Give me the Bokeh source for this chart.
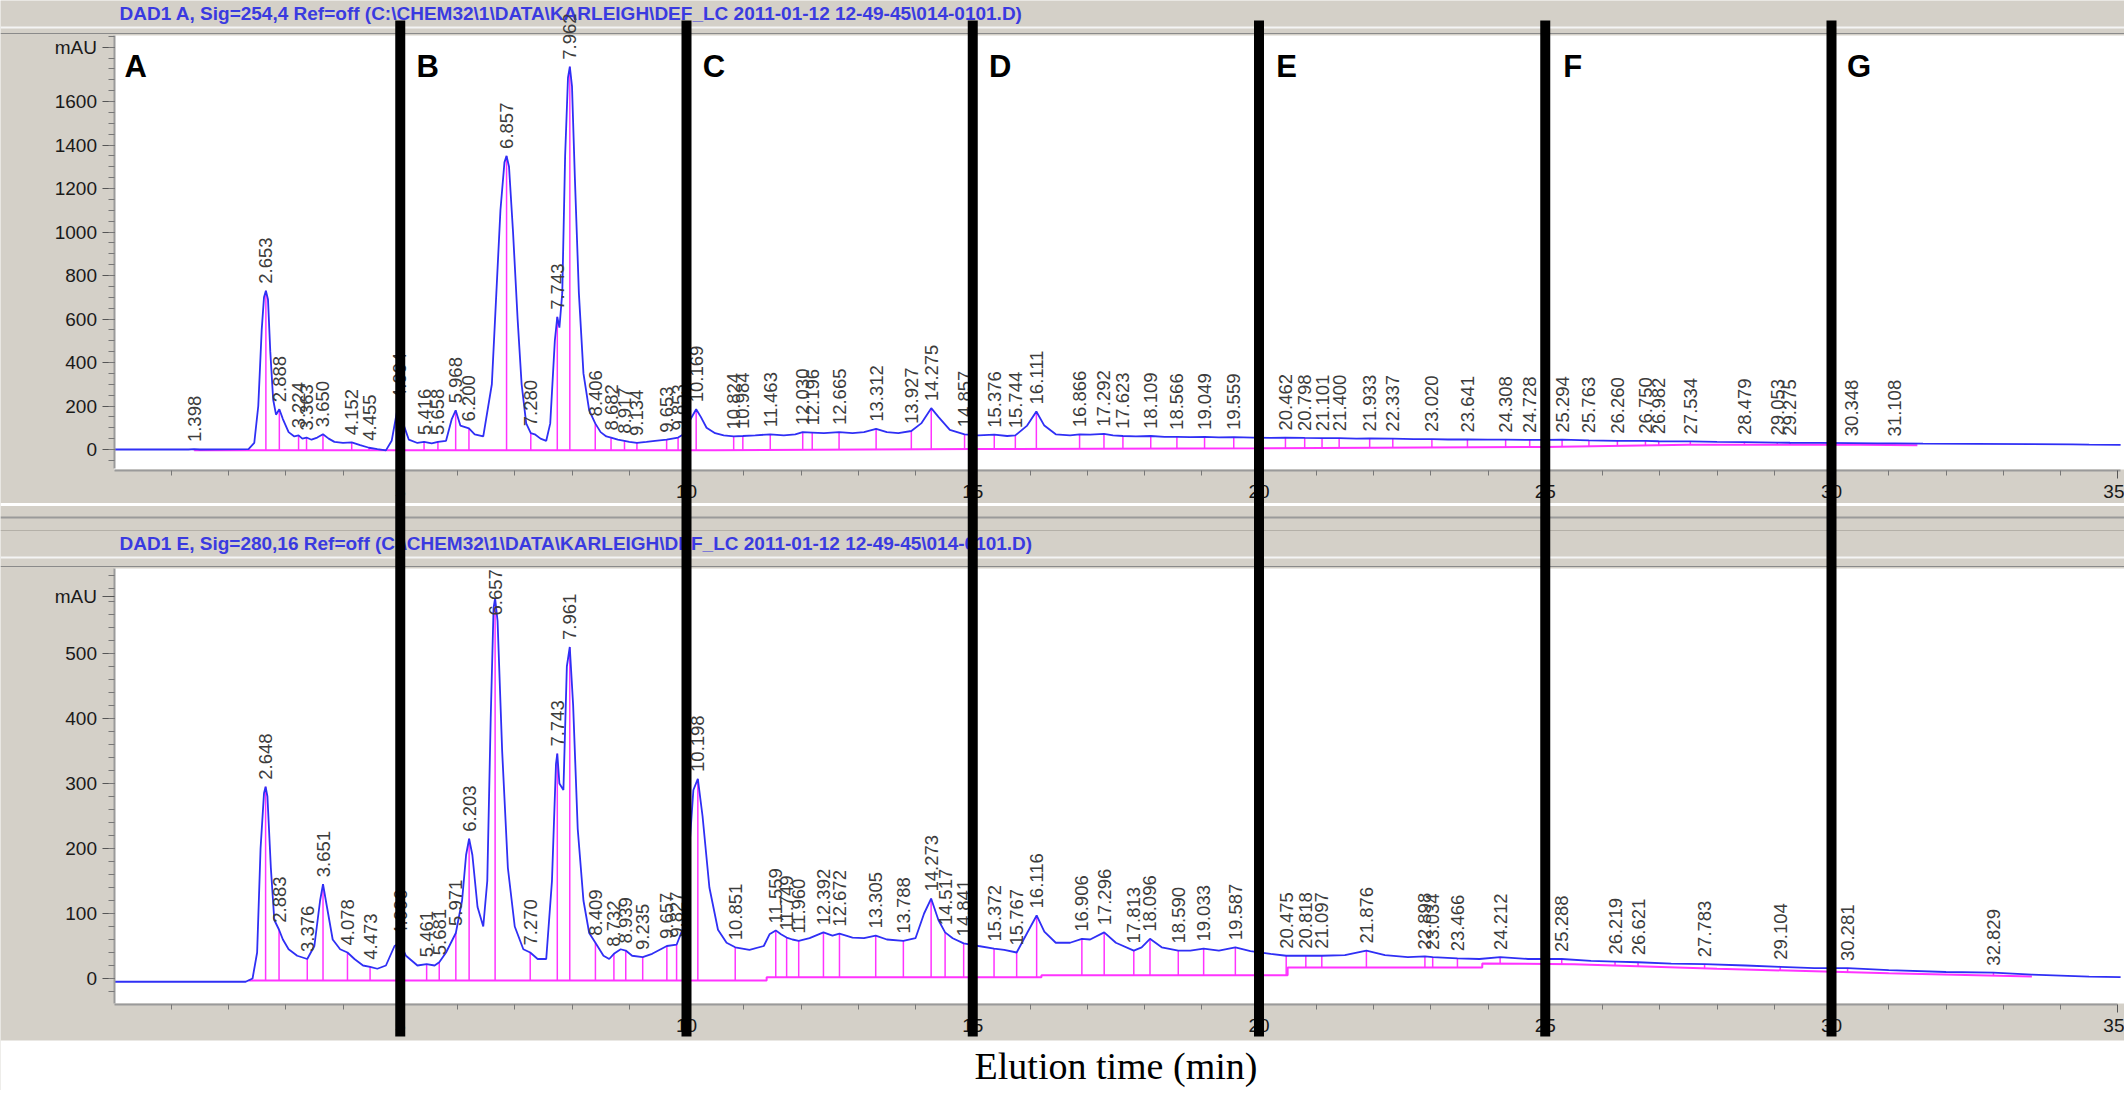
import numpy as np
from bokeh.plotting import figure
from bokeh.models import Range1d, LinearAxis, FixedTicker
from bokeh.embed import file_html
from bokeh.resources import INLINE
from bokeh.core.properties import value

# ---------------- data ----------------
header_top = r"DAD1 A, Sig=254,4 Ref=off (C:\CHEM32\1\DATA\KARLEIGH\DEF_LC 2011-01-12 12-49-45\014-0101.D)"
header_bot = r"DAD1 E, Sig=280,16 Ref=off (C:\CHEM32\1\DATA\KARLEIGH\DEF_LC 2011-01-12 12-49-45\014-0101.D)"
x_label = "Elution time (min)"

x_ticks = [5, 10, 15, 20, 25, 30, 35]
x_minor = list(range(1, 35))
top_y_ticks = [0, 200, 400, 600, 800, 1000, 1200, 1400, 1600]
top_y_minor = list(range(-50, 1901, 50))
top_mau = 1850
bot_y_ticks = [0, 100, 200, 300, 400, 500]
bot_y_minor = list(range(-20, 621, 20))
bot_mau = 588

section_bounds = [5, 10, 15, 20, 25, 30]
section_letters = ["A", "B", "C", "D", "E", "F", "G"]

# upper trace, DAD1 A 254 nm  (time [min], mAU)
top_trace = [(0.0, 0), (1.30, 0), (1.398, 2), (1.50, 0), (2.35, 2), (2.45, 30), (2.52, 200),
             (2.58, 550), (2.62, 700), (2.653, 730), (2.69, 690), (2.73, 450), (2.78, 230),
             (2.83, 160), (2.888, 185), (2.95, 140), (3.05, 80), (3.15, 60), (3.224, 65),
             (3.29, 50), (3.363, 55), (3.45, 45), (3.55, 55), (3.650, 70), (3.75, 50), (3.85, 35),
             (4.00, 30), (4.152, 33), (4.30, 20), (4.455, 8), (4.60, 2), (4.75, -4), (4.85, 40),
             (4.94, 170), (4.994, 200), (5.05, 120), (5.15, 45), (5.30, 30), (5.416, 35),
             (5.55, 28), (5.658, 35), (5.80, 40), (5.90, 140), (5.968, 180), (6.05, 110),
             (6.200, 97), (6.30, 70), (6.45, 60), (6.60, 300), (6.75, 1100), (6.82, 1320),
             (6.857, 1350), (6.90, 1300), (6.97, 1000), (7.05, 600), (7.12, 300), (7.20, 120),
             (7.280, 75), (7.35, 70), (7.45, 50), (7.55, 40), (7.62, 120), (7.70, 500),
             (7.743, 610), (7.78, 560), (7.83, 720), (7.88, 1350), (7.93, 1710), (7.962, 1760),
             (8.00, 1670), (8.05, 1250), (8.12, 720), (8.20, 350), (8.30, 180), (8.406, 120),
             (8.50, 80), (8.60, 60), (8.682, 55), (8.80, 45), (8.917, 40), (9.00, 35),
             (9.134, 30), (9.30, 35), (9.45, 40), (9.653, 45), (9.853, 55), (9.95, 70),
             (10.05, 130), (10.169, 185), (10.25, 150), (10.35, 100), (10.50, 75), (10.65, 65),
             (10.824, 60), (10.984, 62), (11.20, 65), (11.463, 70), (11.70, 65), (11.90, 70),
             (12.030, 80), (12.196, 78), (12.40, 75), (12.665, 80), (12.90, 75), (13.10, 80),
             (13.312, 95), (13.50, 80), (13.70, 75), (13.927, 85), (14.10, 120), (14.275, 190),
             (14.40, 150), (14.60, 90), (14.857, 70), (15.10, 65), (15.376, 68), (15.60, 62),
             (15.744, 65), (15.95, 110), (16.111, 175), (16.25, 110), (16.45, 70), (16.70, 65),
             (16.866, 70), (17.05, 68), (17.292, 72), (17.45, 65), (17.623, 62), (17.85, 60),
             (18.109, 62), (18.35, 58), (18.566, 58), (18.80, 57), (19.049, 58), (19.30, 56),
             (19.559, 57), (19.90, 55), (20.20, 53), (20.462, 55), (20.798, 53), (21.101, 52),
             (21.400, 52), (21.70, 50), (21.933, 51), (22.337, 50), (22.70, 48), (23.020, 48),
             (23.30, 46), (23.641, 46), (24.00, 45), (24.308, 45), (24.728, 44), (25.00, 44),
             (25.294, 45), (25.763, 42), (26.260, 40), (26.750, 40), (26.982, 38), (27.534, 37),
             (28.00, 35), (28.479, 34), (29.053, 32), (29.275, 31), (29.80, 30), (30.348, 29),
             (30.80, 28), (31.108, 28), (31.60, 27), (32.50, 26), (33.50, 25), (34.20, 24),
             (34.50, 22), (35.05, 21)]
top_baseline = [(1.40, -3), (10.5, -3), (15.0, 2), (20.0, 6), (25.0, 12), (27.5, 22),
                (30.5, 22), (31.5, 20)]
top_peaks = [1.398, 2.653, 2.888, 3.224, 3.363, 3.650, 4.152, 4.455, 4.994, 5.416, 5.658,
             5.968, 6.200, 6.857, 7.280, 7.743, 7.962, 8.406, 8.682, 8.917, 9.134, 9.653,
             9.853, 10.169, 10.824, 10.984, 11.463, 12.030, 12.196, 12.665, 13.312, 13.927,
             14.275, 14.857, 15.376, 15.744, 16.111, 16.866, 17.292, 17.623, 18.109, 18.566,
             19.049, 19.559, 20.462, 20.798, 21.101, 21.400, 21.933, 22.337, 23.020, 23.641,
             24.308, 24.728, 25.294, 25.763, 26.260, 26.750, 26.982, 27.534, 28.479, 29.053,
             29.275, 30.348, 31.108]

# lower trace, DAD1 E 280 nm
bot_trace = [(0.0, -5), (2.30, -5), (2.42, 0), (2.50, 40), (2.56, 200), (2.62, 285), (2.648, 295),
             (2.68, 280), (2.74, 170), (2.80, 90), (2.883, 75), (2.95, 60), (3.05, 45), (3.20, 35),
             (3.376, 30), (3.50, 50), (3.60, 120), (3.651, 145), (3.72, 110), (3.82, 60), (3.95, 45),
             (4.078, 40), (4.20, 30), (4.35, 20), (4.473, 18), (4.60, 15), (4.75, 20), (4.90, 50),
             (4.996, 55), (5.10, 35), (5.30, 20), (5.461, 22), (5.60, 20), (5.681, 25), (5.80, 40),
             (5.971, 70), (6.08, 120), (6.15, 190), (6.203, 215), (6.26, 190), (6.35, 110),
             (6.45, 80), (6.52, 150), (6.58, 400), (6.63, 570), (6.657, 585), (6.70, 550),
             (6.78, 350), (6.88, 170), (7.00, 80), (7.15, 45), (7.270, 40), (7.40, 30), (7.55, 30),
             (7.65, 150), (7.72, 330), (7.743, 346), (7.78, 300), (7.85, 290), (7.91, 480),
             (7.961, 510), (8.02, 420), (8.10, 230), (8.20, 120), (8.30, 70), (8.409, 55),
             (8.55, 35), (8.65, 30), (8.732, 38), (8.85, 45), (8.939, 43), (9.05, 35), (9.235, 33),
             (9.40, 38), (9.55, 45), (9.657, 50), (9.827, 52), (9.95, 80), (10.05, 200),
             (10.12, 290), (10.198, 307), (10.28, 250), (10.40, 140), (10.55, 75), (10.70, 55),
             (10.851, 48), (11.10, 44), (11.35, 50), (11.45, 68), (11.559, 74), (11.65, 68),
             (11.749, 63), (11.85, 60), (11.960, 58), (12.15, 62), (12.392, 71), (12.55, 66),
             (12.672, 69), (12.90, 63), (13.10, 62), (13.305, 66), (13.50, 60), (13.788, 58),
             (14.00, 62), (14.15, 100), (14.273, 123), (14.40, 90), (14.517, 71), (14.65, 62),
             (14.841, 54), (15.10, 50), (15.372, 46), (15.55, 44), (15.767, 40), (15.95, 70),
             (16.116, 97), (16.25, 72), (16.45, 55), (16.70, 55), (16.906, 61), (17.05, 60),
             (17.296, 71), (17.50, 55), (17.813, 43), (17.95, 48), (18.096, 61), (18.30, 48),
             (18.590, 43), (18.80, 43), (19.033, 46), (19.30, 43), (19.587, 48), (19.85, 42),
             (20.20, 38), (20.475, 35), (20.818, 35), (21.097, 35), (21.50, 36), (21.876, 43),
             (22.20, 36), (22.60, 33), (22.898, 34), (23.034, 33), (23.466, 31), (23.85, 30),
             (24.212, 33), (24.70, 30), (25.288, 30), (25.80, 27), (26.219, 26), (26.621, 25),
             (27.20, 23), (27.783, 22), (28.50, 20), (29.104, 18), (29.70, 16), (30.281, 16),
             (31.00, 13), (32.00, 10), (32.829, 9), (33.50, 6), (34.50, 3), (35.05, 2)]
bot_baseline = [(2.35, -3), (11.40, -3), (11.40, 2), (16.20, 2), (16.20, 5), (20.50, 5),
                (20.50, 17), (23.90, 17), (23.90, 23), (25.5, 22), (28.0, 15), (31.0, 8),
                (33.5, 3)]
bot_peaks = [2.648, 2.883, 3.376, 3.651, 4.078, 4.473, 4.996, 5.461, 5.681, 5.971, 6.203,
             6.657, 7.270, 7.743, 7.961, 8.409, 8.732, 8.939, 9.235, 9.657, 9.827, 10.198,
             10.851, 11.559, 11.749, 11.960, 12.392, 12.672, 13.305, 13.788, 14.273, 14.517,
             14.841, 15.372, 15.767, 16.116, 16.906, 17.296, 17.813, 18.096, 18.590, 19.033,
             19.587, 20.475, 20.818, 21.097, 21.876, 22.898, 23.034, 23.466, 24.212, 25.288,
             26.219, 26.621, 27.783, 29.104, 30.281, 32.829]

# ---------------- layout (page pixels; the page has no body margin) ----------------
W, H = 2124, 1090
X0, PXM = 113.5, 57.25          # page x of t=0, pixels per minute
TOP0, TOPK = 449.0, 0.2175      # page y of 0 mAU (upper), px per mAU
BOT0, BOTK = 978.0, 0.65        # page y of 0 mAU (lower), px per mAU

def t_of(px): return (px - X0) / PXM
def vt(py): return (TOP0 - py) / TOPK
def vb(py): return (BOT0 - py) / BOTK

GRAY = "#d4d0c8"
BLUE = "#2f2ff5"
MAG = "#ff33ff"
FONT = "Liberation Sans"

p = figure(width=W, height=H,
           x_range=Range1d(t_of(0), t_of(W)),
           y_range=Range1d(vb(H), vb(0)),
           x_axis_location=None, y_axis_location=None, toolbar_location=None,
           output_backend="svg", min_border=0, outline_line_color=None,
           background_fill_color=GRAY, border_fill_color=GRAY)
p.extra_y_ranges = {"top": Range1d(vt(H), vt(0)), "px": Range1d(H, 0)}
p.extra_x_ranges = {"px": Range1d(0, W)}
p.grid.visible = False

# panel backgrounds and bevel lines (page pixel space)
p.quad(left=[X0, X0, 0], right=[W] * 3, top=[35, 568, 1040], bottom=[469, 1003, H],
       x_range_name="px", y_range_name="px", fill_color="white", line_color=None)
sep_y = [27, 33, 504, 517, 530, 557, 566]
sep_c = ["#f4f4f4", "#8a8a8a", "#ffffff", "#9a9a9a", "#b4b0a8", "#f4f4f4", "#8a8a8a"]
sep_w = [2, 1, 3, 2, 1, 2, 1]
p.segment(x0=[0] * len(sep_y), x1=[W] * len(sep_y), y0=sep_y, y1=sep_y,
          x_range_name="px", y_range_name="px", line_color=sep_c, line_width=sep_w)

# header strips
p.text(x=[119, 119], y=[13, 543], text=[header_top, header_bot], x_range_name="px", y_range_name="px",
       text_font=value(FONT), text_font_size="19px", text_font_style="bold", text_color="#3a3ae0",
       text_baseline="middle", text_align="left")

def draw_panel(trace, baseline, peaks, yname, label_ceiling):
    t = np.array([a for a, _ in trace]); v = np.array([b for _, b in trace])
    bt = np.array([a for a, _ in baseline]); bv = np.array([b for _, b in baseline])
    rt = np.array(peaks)
    apex = np.interp(rt, t, v)
    base = np.interp(rt, bt, bv)
    kw = {} if yname is None else {"y_range_name": yname}
    p.line(bt, bv, line_color=MAG, line_width=2, **kw)
    p.segment(x0=rt, x1=rt, y0=base, y1=apex, line_color=MAG, line_width=1.5, **kw)
    p.line(t, v, line_color=BLUE, line_width=1.8, **kw)
    p.text(x=rt, y=np.minimum(np.maximum(apex, base), label_ceiling), text=[f"{r:.3f}" for r in rt],
           angle=np.pi / 2, y_offset=-7,
           text_font=value(FONT), text_font_size="18.5px", text_color="#3c3c3c",
           text_align="left", text_baseline="middle", **kw)

draw_panel(top_trace, top_baseline, top_peaks, "top", vt(0))
draw_panel(bot_trace, bot_baseline, bot_peaks, None, vb(568 + 54))

# section letters
letter_x = [0.38] + [b + 0.48 for b in section_bounds]
p.text(x=letter_x, y=[66] * len(letter_x), text=section_letters, y_range_name="px",
       text_font=value(FONT), text_font_size="31px", text_font_style="bold", text_color="black",
       text_align="center", text_baseline="middle")

# axes
def style(ax, tick_out, minor_out, standoff):
    ax.axis_line_color = "#9a9a9a"; ax.axis_line_width = 2
    ax.major_tick_line_color = "#555555"; ax.minor_tick_line_color = "#777777"
    ax.major_tick_in = 0; ax.minor_tick_in = 0
    ax.major_tick_out = tick_out; ax.minor_tick_out = minor_out
    ax.major_label_text_font = FONT
    ax.major_label_text_font_size = "19px"
    ax.major_label_text_color = "#1a1a1a"
    ax.major_label_standoff = standoff

ya = LinearAxis(y_range_name="top", fixed_location=0, bounds=(vt(468), vt(35)),
                ticker=FixedTicker(ticks=top_y_ticks + [top_mau], minor_ticks=top_y_minor),
                major_label_overrides={top_mau: "mAU"})
style(ya, 12, 6, 5)
p.add_layout(ya, "left")

yb = LinearAxis(fixed_location=0, bounds=(vb(1003), vb(568)),
                ticker=FixedTicker(ticks=bot_y_ticks + [bot_mau], minor_ticks=bot_y_minor),
                major_label_overrides={bot_mau: "mAU"})
style(yb, 12, 6, 5)
p.add_layout(yb, "left")

xa = LinearAxis(y_range_name="top", fixed_location=vt(470), bounds=(0, 35.05),
                ticker=FixedTicker(ticks=x_ticks, minor_ticks=x_minor))
style(xa, 8, 5, 6)
p.add_layout(xa, "below")

xb = LinearAxis(fixed_location=vb(1004), bounds=(0, 35.0),
                ticker=FixedTicker(ticks=x_ticks, minor_ticks=x_minor),
                axis_label=x_label)
style(xb, 8, 5, 6)
xb.axis_label_text_font = "Liberation Serif"
xb.axis_label_text_font_size = "38px"
xb.axis_label_text_font_style = "normal"
xb.axis_label_text_color = "black"
xb.axis_label_standoff = 10
p.add_layout(xb, "below")

# thick section separators spanning both panels
p.segment(x0=section_bounds, x1=section_bounds, y0=[20] * 6, y1=[1036] * 6, y_range_name="px",
          line_color="black", line_width=10, level="overlay")

open("out.html", "w").write(file_html(p, INLINE))
